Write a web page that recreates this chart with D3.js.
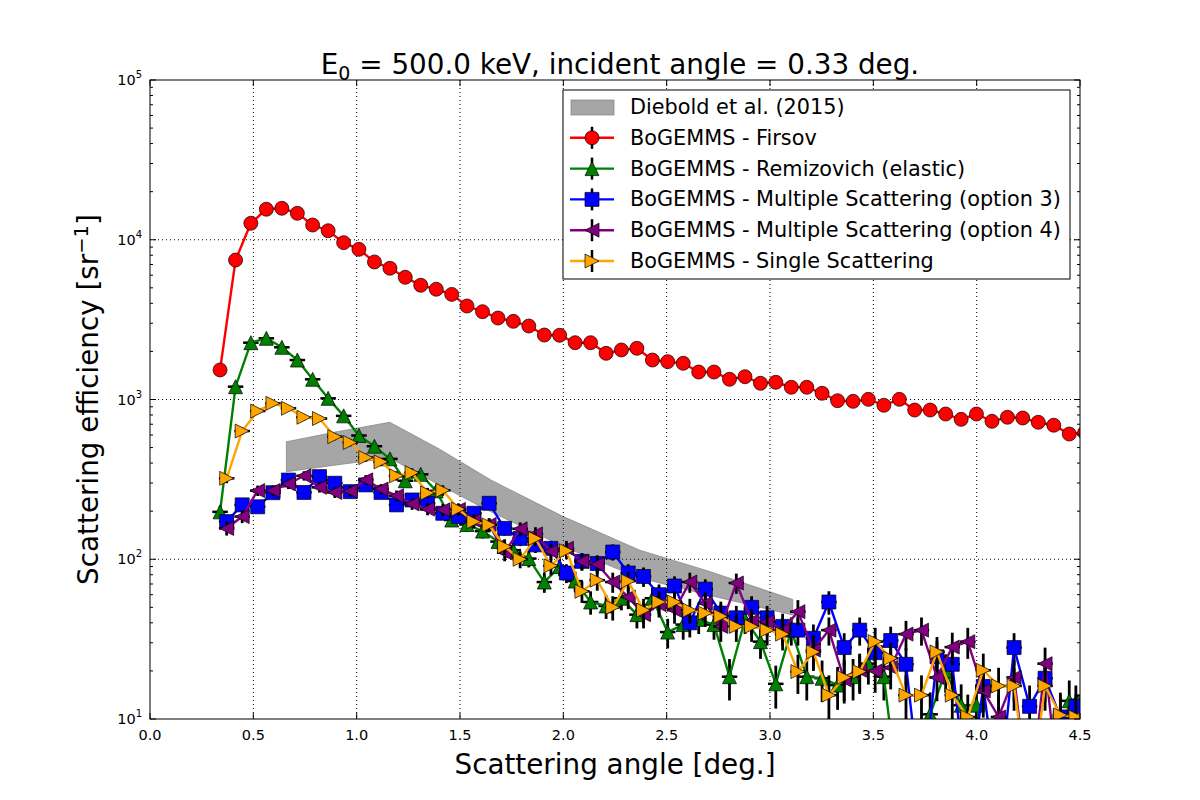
<!DOCTYPE html>
<meta charset="utf-8">

<!-- Load d3.js -->
<script src="https://d3js.org/d3.v7.min.js"></script>

<body style="margin:0; background:#fff">
    <div id="chart"></div>
</body>

<script>

    // bin centres (deg) - Firsov and Remizovich
    var angleA = [0.339, 0.414, 0.488, 0.563, 0.638, 0.713, 0.787, 0.862, 0.937, 1.011,
        1.086, 1.161, 1.235, 1.310, 1.385, 1.460, 1.534, 1.609, 1.684, 1.758,
        1.833, 1.908, 1.982, 2.057, 2.132, 2.207, 2.281, 2.356, 2.431, 2.505,
        2.580, 2.655, 2.729, 2.804, 2.879, 2.954, 3.028, 3.103, 3.178, 3.252,
        3.327, 3.402, 3.476, 3.551, 3.626, 3.700, 3.775, 3.850, 3.925, 3.999,
        4.074, 4.149, 4.223, 4.298, 4.373, 4.448, 4.522];

    // bin centres (deg) - Geant4 physics lists
    var angleB = [0.371, 0.446, 0.521, 0.595, 0.670, 0.745, 0.820, 0.894, 0.969, 1.044,
        1.118, 1.193, 1.268, 1.343, 1.417, 1.492, 1.567, 1.641, 1.716, 1.791,
        1.865, 1.940, 2.015, 2.090, 2.164, 2.239, 2.314, 2.388, 2.463, 2.538,
        2.612, 2.687, 2.762, 2.837, 2.911, 2.986, 3.061, 3.135, 3.210, 3.285,
        3.359, 3.434, 3.509, 3.584, 3.658, 3.733, 3.808, 3.882, 3.957, 4.032,
        4.106, 4.181, 4.256, 4.331, 4.405, 4.480];

    var binHalfWidth = 0.0375;

    var firsov = [1531, 7460, 12680, 15520, 15740, 14640, 12360, 11390, 9590, 8710,
        7260, 6630, 5820, 5190, 4900, 4550, 3846, 3546, 3236, 3085,
        2884, 2533, 2523, 2268, 2268, 1946, 2042, 2091, 1766, 1725,
        1685, 1486, 1486, 1338, 1389, 1263, 1281, 1193, 1193, 1094,
        983, 974, 1002, 920, 1002, 859, 859, 811, 751, 811,
        730, 774, 766, 720, 690, 608, 620];

    var remizovich = [198, 1203, 2268, 2415, 2122, 1766, 1338, 1017, 790, 595,
        510, 425, 310, 340, 268, 176, 165, 150, 129, 114,
        101, 72, 90, 73, 54, 51, 57, 45, 57, 35,
        39, 42, 39, 18.4, 42, 30.5, 16.6, 36, 18.4, 18,
        16.3, 18.4, 22.2, 18.4, 3, 3, 10.7, 20, 12.2, 12.2,
        3, 3, 3, 3, 3, 13, 14];
    var remizovichErr = [0.09, 0.035, 0.026, 0.025, 0.027, 0.029, 0.034, 0.038, 0.044, 0.05,
        0.054, 0.06, 0.07, 0.066, 0.075, 0.092, 0.095, 0.1, 0.108, 0.115,
        0.12, 0.144, 0.13, 0.143, 0.167, 0.17, 0.16, 0.18, 0.16, 0.21,
        0.196, 0.19, 0.196, 0.29, 0.19, 0.22, 0.3, 0.2, 0.29, 0.29,
        0.3, 0.29, 0.26, 0.29, 0, 0, 0.37, 0.27, 0.35, 0.35,
        0, 0, 0, 0, 0, 0.34, 0.33];

    var msc3 = [172, 219, 213, 261, 313, 262, 329, 299, 265, 292,
        262, 219, 235, 224, 194, 185, 194, 224, 156, 135,
        123, 117, 82, 97, 94, 111, 82, 78, 60, 68,
        40, 65, 46, 43, 50, 43, 38, 36, 32, 54,
        28, 36, 26, 31, 22, 3, 24.5, 22, 3, 16,
        3, 28, 12, 18, 10.3, 12];
    var msc3Err = [0.093, 0.083, 0.084, 0.076, 0.069, 0.076, 0.068, 0.071, 0.075, 0.072,
        0.076, 0.083, 0.08, 0.082, 0.088, 0.09, 0.088, 0.082, 0.098, 0.105,
        0.11, 0.113, 0.135, 0.124, 0.126, 0.116, 0.135, 0.139, 0.158, 0.149,
        0.19, 0.152, 0.18, 0.187, 0.173, 0.187, 0.2, 0.2, 0.22, 0.167,
        0.23, 0.2, 0.24, 0.22, 0.26, 0, 0.25, 0.26, 0, 0.31,
        0, 0.23, 0.35, 0.29, 0.38, 0.35];

    var msc4 = [156, 185, 269, 269, 296, 333, 282, 262, 267, 314,
        275, 250, 222, 206, 204, 205, 175, 165, 110, 155,
        144, 112, 117, 97, 93, 72, 58, 45, 52, 48,
        72, 53, 38, 71, 41, 40.6, 36, 47, 27, 36,
        17.6, 20.2, 20, 21, 34, 36, 18.2, 28.2, 30.5, 15,
        10.3, 18.2, 3, 22.2, 3, 3];
    var msc4Err = [0.098, 0.09, 0.075, 0.075, 0.071, 0.067, 0.073, 0.076, 0.075, 0.069,
        0.074, 0.077, 0.082, 0.085, 0.086, 0.086, 0.093, 0.095, 0.117, 0.098,
        0.102, 0.116, 0.113, 0.124, 0.127, 0.144, 0.16, 0.18, 0.17, 0.177,
        0.144, 0.168, 0.2, 0.145, 0.19, 0.19, 0.2, 0.18, 0.24, 0.2,
        0.29, 0.27, 0.27, 0.27, 0.21, 0.2, 0.29, 0.23, 0.22, 0.32,
        0.38, 0.29, 0, 0.26, 0, 0];

    var single = [321, 635, 847, 946, 881, 774, 760, 585, 538, 433,
        407, 333, 348, 260, 270, 206, 172, 164, 120, 100,
        135, 91, 113, 63, 74, 50, 73, 48, 54, 54,
        48, 46, 44, 38, 38, 36, 34, 19.8, 26.3, 14.1,
        18.2, 19.8, 30.5, 24, 14.1, 14.1, 26.3, 14.1, 10.3, 20.2,
        16.1, 16.1, 3, 16.1, 10.6, 10.3];
    var singleErr = [0.068, 0.049, 0.042, 0.04, 0.041, 0.044, 0.044, 0.05, 0.053, 0.059,
        0.061, 0.067, 0.066, 0.076, 0.075, 0.085, 0.093, 0.096, 0.112, 0.122,
        0.105, 0.128, 0.115, 0.154, 0.142, 0.173, 0.143, 0.177, 0.167, 0.167,
        0.177, 0.18, 0.185, 0.2, 0.2, 0.2, 0.21, 0.275, 0.24, 0.33,
        0.29, 0.275, 0.22, 0.25, 0.33, 0.33, 0.24, 0.33, 0.38, 0.27,
        0.3, 0.3, 0, 0.3, 0.38, 0.38];

    // Diebold et al. (2015) band
    var dieboldAngle = [0.66, 0.90, 1.16, 1.40, 1.65, 2.00, 2.37, 2.70, 3.11];
    var dieboldLow = [353, 389, 430, 292, 198, 120, 76.3, 59.7, 44.8];
    var dieboldHigh = [544, 627, 720, 490, 313, 185, 114, 84.5, 56];

    var xTicks = [0.0, 0.5, 1.0, 1.5, 2.0, 2.5, 3.0, 3.5, 4.0, 4.5];
    var yTicks = [1e1, 1e2, 1e3, 1e4, 1e5];

    var legendLabels = ["Diebold et al. (2015)", "BoGEMMS - Firsov", "BoGEMMS - Remizovich (elastic)",
        "BoGEMMS - Multiple Scattering (option 3)", "BoGEMMS - Multiple Scattering (option 4)",
        "BoGEMMS - Single Scattering"];

    var series = [
        { x: angleA, v: firsov, err: null, color: "#ff0000", marker: "circle" },
        { x: angleA, v: remizovich, err: remizovichErr, color: "#008000", marker: "up" },
        { x: angleB, v: msc3, err: msc3Err, color: "#0000ff", marker: "square" },
        { x: angleB, v: msc4, err: msc4Err, color: "#800080", marker: "left" },
        { x: angleB, v: single, err: singleErr, color: "#ffa500", marker: "right" }
    ];

    // set the dimensions and margins of the graph
    var margin = { top: 80, right: 120, bottom: 81, left: 150 },
        width = 1200 - margin.left - margin.right,
        height = 800 - margin.top - margin.bottom;

    var svg = d3.select("#chart")
        .append("svg")
        .attr("width", 1200)
        .attr("height", 800)
        .style("font-family", "'DejaVu Sans', sans-serif");

    var g = svg.append("g")
        .attr("transform", "translate(" + margin.left + "," + margin.top + ")");

    var x = d3.scaleLinear().domain([0, 4.5]).range([0, width]);
    var y = d3.scaleLog().domain([10, 1e5]).range([height, 0]);

    g.append("clipPath").attr("id", "clip")
        .append("rect").attr("width", width).attr("height", height);

    var plot = g.append("g").attr("clip-path", "url(#clip)");

    // Diebold band
    var band = d3.area()
        .x(function (d, i) { return x(dieboldAngle[i]); })
        .y0(function (d, i) { return y(dieboldLow[i]); })
        .y1(function (d, i) { return y(dieboldHigh[i]); });
    plot.append("path")
        .datum(dieboldAngle)
        .attr("d", band)
        .attr("fill", "#808080")
        .attr("fill-opacity", 0.7)
        .attr("stroke", "#808080")
        .attr("stroke-opacity", 0.7)
        .attr("stroke-width", 1);

    // grid
    plot.append("g")
        .selectAll("line")
        .data(xTicks.slice(1, -1))
        .enter().append("line")
        .attr("x1", function (d) { return x(d); })
        .attr("x2", function (d) { return x(d); })
        .attr("y1", 0).attr("y2", height)
        .attr("stroke", "#000").attr("stroke-width", 1).attr("stroke-dasharray", "1,3");
    plot.append("g")
        .selectAll("line")
        .data(yTicks.slice(1, -1))
        .enter().append("line")
        .attr("y1", function (d) { return y(d); })
        .attr("y2", function (d) { return y(d); })
        .attr("x1", 0).attr("x2", width)
        .attr("stroke", "#000").attr("stroke-width", 1).attr("stroke-dasharray", "1,3");

    var R = 7;
    function markerPath(type) {
        if (type == "up") return "M0," + (-R) + "L" + (-R) + "," + R + "L" + R + "," + R + "Z";
        if (type == "left") return "M" + (-R) + ",0L" + R + "," + (-R) + "L" + R + "," + R + "Z";
        if (type == "right") return "M" + R + ",0L" + (-R) + "," + (-R) + "L" + (-R) + "," + R + "Z";
        if (type == "square") return "M" + (-R) + "," + (-R) + "h" + (2 * R) + "v" + (2 * R) + "h" + (-2 * R) + "Z";
        return d3.arc()({ innerRadius: 0, outerRadius: R, startAngle: 0, endAngle: 2 * Math.PI });
    }

    series.forEach(function (s) {
        var pts = s.v.map(function (v, i) { return { a: s.x[i], v: v, e: s.err ? s.err[i] : 0 }; });
        var layer = plot.append("g");

        // error bars
        if (s.err) {
            var eb = pts.filter(function (d) { return d.v >= 10 && d.e > 0; });
            layer.append("g").selectAll("line")
                .data(eb).enter().append("line")
                .attr("x1", function (d) { return x(d.a); })
                .attr("x2", function (d) { return x(d.a); })
                .attr("y1", function (d) { return y(d.v * (1 + d.e)); })
                .attr("y2", function (d) { return y(d.v * (1 - d.e)); })
                .attr("stroke", "#000").attr("stroke-width", 2.8);
            layer.append("g").selectAll("line")
                .data(eb).enter().append("line")
                .attr("x1", function (d) { return x(d.a - binHalfWidth); })
                .attr("x2", function (d) { return x(d.a + binHalfWidth); })
                .attr("y1", function (d) { return y(d.v); })
                .attr("y2", function (d) { return y(d.v); })
                .attr("stroke", "#000").attr("stroke-width", 2.5);
        }

        layer.append("path")
            .datum(pts)
            .attr("d", d3.line().x(function (d) { return x(d.a); }).y(function (d) { return y(d.v); }))
            .attr("fill", "none")
            .attr("stroke", s.color)
            .attr("stroke-width", 2.4);

        layer.append("g").selectAll("path")
            .data(pts.filter(function (d) { return d.v >= 5; }))
            .enter().append("path")
            .attr("transform", function (d) { return "translate(" + x(d.a) + "," + y(d.v) + ")"; })
            .attr("d", markerPath(s.marker))
            .attr("fill", s.color)
            .attr("stroke", "#000")
            .attr("stroke-width", 0.7);
    });

    // frame
    g.append("rect").attr("width", width).attr("height", height)
        .attr("fill", "none").attr("stroke", "#000").attr("stroke-width", 1);

    // x ticks (inward, bottom and top)
    xTicks.forEach(function (t) {
        g.append("line").attr("x1", x(t)).attr("x2", x(t)).attr("y1", height).attr("y2", height - 6)
            .attr("stroke", "#000");
        g.append("line").attr("x1", x(t)).attr("x2", x(t)).attr("y1", 0).attr("y2", 6)
            .attr("stroke", "#000");
        g.append("text").attr("x", x(t)).attr("y", height + 21)
            .attr("text-anchor", "middle").attr("font-size", "14.5px")
            .text(t.toFixed(1));
    });

    // y ticks: major and minor (inward, left and right)
    for (var e = 1; e <= 5; e++) {
        var t = Math.pow(10, e);
        g.append("line").attr("x1", 0).attr("x2", 6).attr("y1", y(t)).attr("y2", y(t)).attr("stroke", "#000");
        g.append("line").attr("x1", width).attr("x2", width - 6).attr("y1", y(t)).attr("y2", y(t)).attr("stroke", "#000");
        var lab = g.append("text").attr("x", -8).attr("y", y(t) + 5)
            .attr("text-anchor", "end").attr("font-size", "14.5px");
        lab.append("tspan").text("10");
        lab.append("tspan").attr("dy", -7).attr("font-size", "10px").text(e);
        if (e < 5) {
            for (var m = 2; m <= 9; m++) {
                var tm = m * t;
                g.append("line").attr("x1", 0).attr("x2", 3).attr("y1", y(tm)).attr("y2", y(tm)).attr("stroke", "#000");
                g.append("line").attr("x1", width).attr("x2", width - 3).attr("y1", y(tm)).attr("y2", y(tm)).attr("stroke", "#000");
            }
        }
    }

    // title
    var title = svg.append("text").attr("x", 620).attr("y", 74)
        .attr("text-anchor", "middle").attr("font-size", "27.8px");
    title.append("tspan").text("E");
    title.append("tspan").attr("dy", 6).attr("font-size", "19px").text("0");
    title.append("tspan").attr("dy", -6).text(" = 500.0 keV, incident angle = 0.33 deg.");

    // axis labels
    svg.append("text").attr("x", 615).attr("y", 774)
        .attr("text-anchor", "middle").attr("font-size", "27.8px")
        .text("Scattering angle [deg.]");

    var ylab = svg.append("text")
        .attr("transform", "translate(98," + (margin.top + height / 2) + ") rotate(-90)")
        .attr("text-anchor", "middle").attr("font-size", "27.8px");
    ylab.append("tspan").text("Scattering efficiency [sr");
    ylab.append("tspan").attr("dy", -10).attr("font-size", "19.5px").text("\u22121");
    ylab.append("tspan").attr("dy", 10).text("]");

    // legend
    var leg = svg.append("g").attr("transform", "translate(563,90)");
    leg.append("rect").attr("width", 507).attr("height", 189)
        .attr("fill", "#fff").attr("stroke", "#000").attr("stroke-width", 1);
    legendLabels.forEach(function (label, i) {
        var cy = 17 + i * 30.8;
        if (i == 0) {
            leg.append("rect").attr("x", 8).attr("y", cy - 7).attr("width", 43).attr("height", 15)
                .attr("fill", "#808080").attr("fill-opacity", 0.7)
                .attr("stroke", "#808080").attr("stroke-opacity", 0.7);
        } else {
            var s = series[i - 1];
            leg.append("line").attr("x1", 29).attr("x2", 29).attr("y1", cy - 11).attr("y2", cy + 11)
                .attr("stroke", "#000").attr("stroke-width", 2.5);
            leg.append("line").attr("x1", 7).attr("x2", 51).attr("y1", cy).attr("y2", cy)
                .attr("stroke", s.color).attr("stroke-width", 2.4);
            leg.append("path").attr("transform", "translate(29," + cy + ")")
                .attr("d", markerPath(s.marker))
                .attr("fill", s.color).attr("stroke", "#000").attr("stroke-width", 0.7);
        }
        leg.append("text").attr("x", 67).attr("y", cy + 7)
            .attr("font-size", "20.8px").text(label);
    });

</script>
